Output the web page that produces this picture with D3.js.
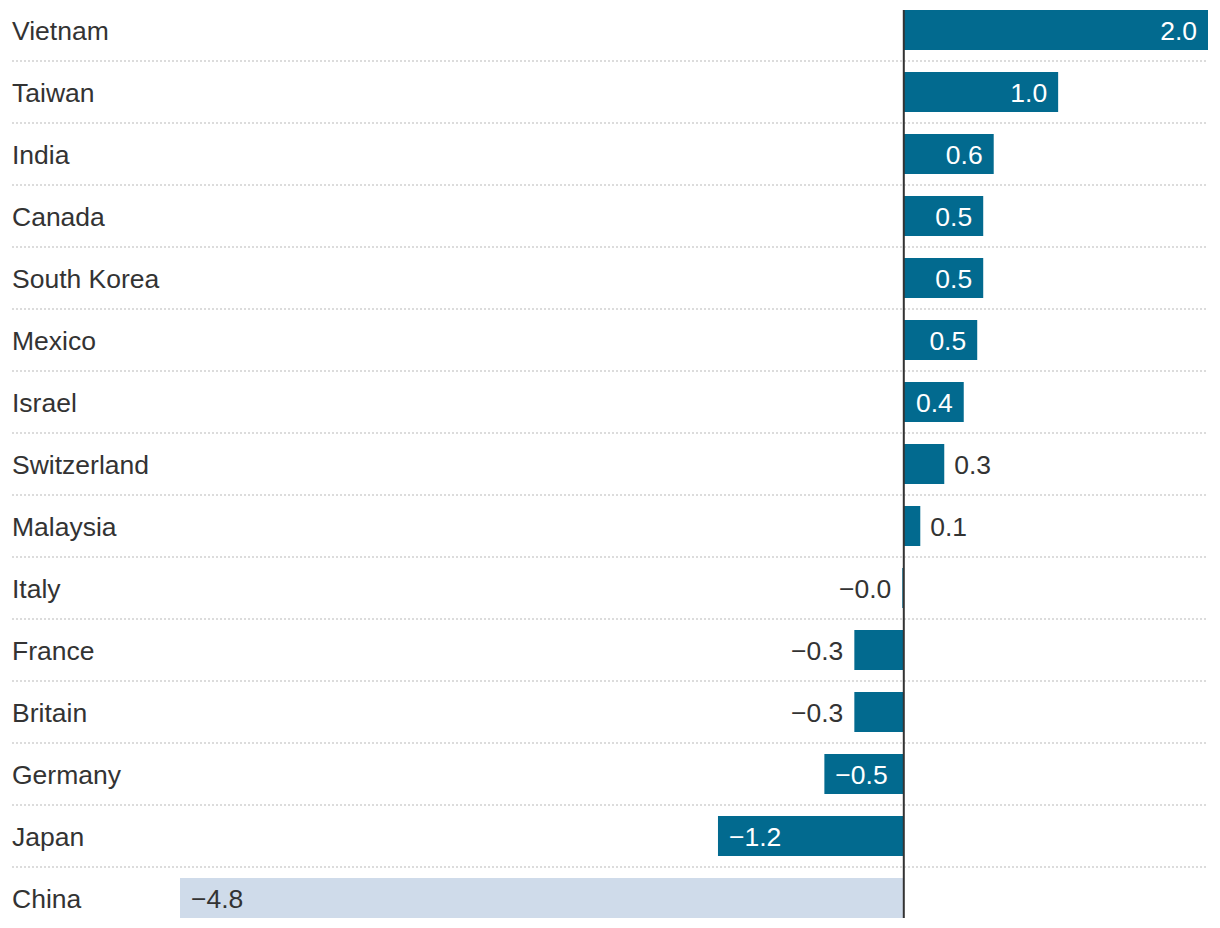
<!DOCTYPE html>
<html>
<head>
<meta charset="utf-8">
<script src="https://cdn.jsdelivr.net/npm/d3@7"></script>
<style>
  html, body { margin: 0; padding: 0; background: #fff; }
  svg { display: block; }
  text { font-family: "Liberation Sans", Arial, sans-serif; }
</style>
</head>
<body>
<svg id="chart" width="1220" height="928"></svg>
<script>
const countries = ["Vietnam","Taiwan","India","Canada","South Korea","Mexico","Israel","Switzerland","Malaysia","Italy","France","Britain","Germany","Japan","China"];
const values = [2.03, 1.03, 0.6, 0.53, 0.53, 0.49, 0.4, 0.27, 0.11, -0.01, -0.33, -0.33, -0.53, -1.24, -4.83];
const highlighted = ["China"];

const data = countries.map((c, i) => ({ country: c, value: values[i] }));

const svg = d3.select("#chart");

const x = d3.scaleLinear()
  .domain(d3.extent(values))
  .range([180, 1208]);

const y = d3.scaleBand()
  .domain(countries)
  .range([-1, -1 + 62 * countries.length])
  .paddingInner(22 / 62)
  .paddingOuter(11 / 62);

const fmt = v => (v < 0 ? "\u2212" : "") + Math.abs(v).toFixed(1);
const dark = "#026a8f";
const light = "#cfdbea";
const textColor = "#333";
const fontSize = 26.5;
const pad = 11;

// separators
svg.append("g").selectAll("line")
  .data(countries.slice(0, -1))
  .join("line")
  .attr("x1", 12).attr("x2", 1208)
  .attr("y1", d => y(d) + y.bandwidth() + 11)
  .attr("y2", d => y(d) + y.bandwidth() + 11)
  .attr("stroke", "#dcdcdc")
  .attr("stroke-width", 2)
  .attr("stroke-dasharray", "2,2");

// bars
svg.append("g").selectAll("rect")
  .data(data)
  .join("rect")
  .attr("x", d => Math.min(x(0), x(d.value)))
  .attr("width", d => Math.abs(x(d.value) - x(0)))
  .attr("y", d => y(d.country))
  .attr("height", y.bandwidth())
  .attr("fill", d => highlighted.includes(d.country) ? light : dark);

// zero line
svg.append("line")
  .attr("x1", x(0)).attr("x2", x(0))
  .attr("y1", y(countries[0]))
  .attr("y2", y(countries[countries.length - 1]) + y.bandwidth())
  .attr("stroke", "#333")
  .attr("stroke-width", 2);

// country labels
svg.append("g").selectAll("text")
  .data(data)
  .join("text")
  .attr("x", 12)
  .attr("y", d => y(d.country) + y.bandwidth() / 2 + 10)
  .attr("font-size", fontSize)
  .attr("fill", textColor)
  .text(d => d.country);

// value labels
svg.append("g").selectAll("text")
  .data(data)
  .join("text")
  .each(function(d) {
    const w = Math.abs(x(d.value) - x(0));
    const inside = w >= 55;
    const pos = d.value >= 0;
    let xx, anchor;
    if (pos) {
      if (inside) { xx = x(d.value) - pad; anchor = "end"; }
      else { xx = x(d.value) + pad - 1; anchor = "start"; }
    } else {
      if (inside) { xx = x(d.value) + pad; anchor = "start"; }
      else { xx = x(d.value) - pad; anchor = "end"; }
    }
    const hl = highlighted.includes(d.country);
    d3.select(this)
      .attr("x", xx)
      .attr("text-anchor", anchor)
      .attr("fill", inside && !hl ? "#fff" : textColor);
  })
  .attr("y", d => y(d.country) + y.bandwidth() / 2 + 10)
  .attr("font-size", fontSize)
  .text(d => fmt(d.value));
</script>
</body>
</html>
